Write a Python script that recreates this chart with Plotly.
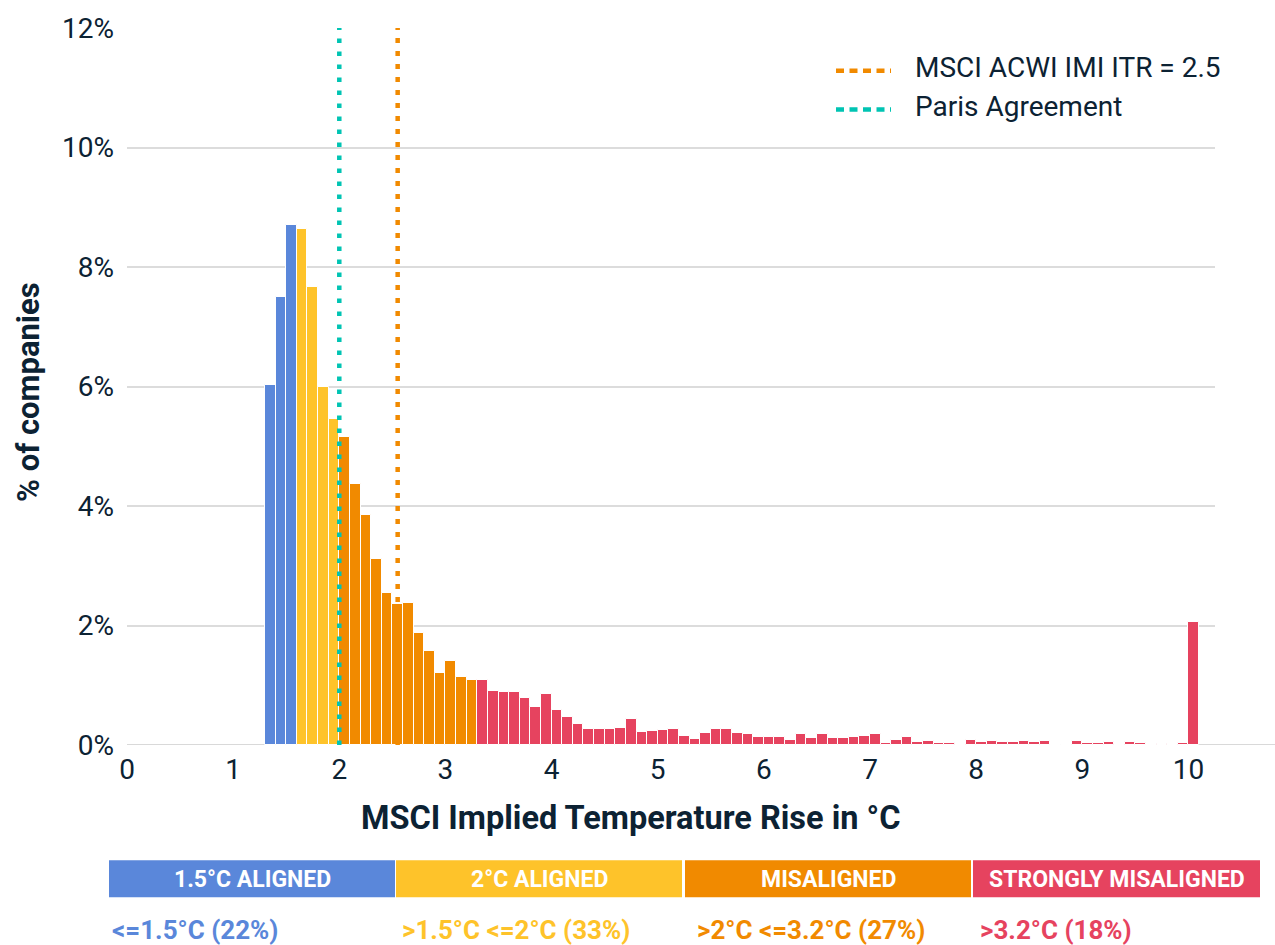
import plotly.graph_objects as go

# ---------------- data ----------------
bin_start = 1.3          # left edge of first bin (°C)
bin_width = 0.1          # bin width (°C)
share_pct = [
    6.03, 7.49, 8.70,                                   # 1.3 - 1.6
    8.64, 7.67, 5.99, 5.45,                             # 1.6 - 2.0
    5.16, 4.36, 3.85, 3.11, 2.54, 2.36, 2.37, 1.87,     # 2.0 - 2.8
    1.58, 1.20, 1.40, 1.14, 1.08,                       # 2.8 - 3.3
    1.08, 0.90, 0.88, 0.88, 0.78, 0.63, 0.86,           # 3.3 - 4.0
    0.58, 0.47, 0.35, 0.27, 0.26, 0.27, 0.29, 0.44, 0.22, 0.24,   # 4.0 - 5.0
    0.25, 0.26, 0.15, 0.10, 0.20, 0.26, 0.26, 0.20, 0.18, 0.13,   # 5.0 - 6.0
    0.13, 0.13, 0.09, 0.19, 0.11, 0.19, 0.11, 0.11, 0.14, 0.15,   # 6.0 - 7.0
    0.19, 0.03, 0.09, 0.14, 0.05, 0.07, 0.04, 0.035, 0.015, 0.09, # 7.0 - 8.0
    0.05, 0.06, 0.05, 0.05, 0.07, 0.05, 0.07, 0.005, 0.005, 0.06, # 8.0 - 9.0
    0.04, 0.03, 0.055, 0.015, 0.055, 0.03, 0.005, 0.02, 0.02, 0.03, # 9.0 - 10.0
    2.06,                                               # 10.0 - 10.1
]
category_names = ["1.5°C ALIGNED", "2°C ALIGNED", "MISALIGNED", "STRONGLY MISALIGNED"]
category_labels = ["<=1.5°C (22%)", ">1.5°C <=2°C (33%)", ">2°C <=3.2°C (27%)", ">3.2°C (18%)"]
category_colors = ["#5A87DA", "#FEC32A", "#F18A00", "#E6435F"]
category_upper = [1.6, 2.0, 3.3, 99]     # upper bin edge of each colour band
itr_value = 2.55
paris_value = 2.0
line_names = ["MSCI ACWI IMI ITR = 2.5", "Paris Agreement"]
itr_color = "#F18A00"
paris_color = "#00C4B3"
y_ticks = [0, 2, 4, 6, 8, 10, 12]
y_ticktext = ["0%", "2%", "4%", "6%", "8%", "10%", "12%"]
x_ticks = [0, 1, 2, 3, 4, 5, 6, 7, 8, 9, 10]

# ---------------- derived ----------------
bin_centers = [round(bin_start + bin_width * (i + 0.5), 3) for i in range(len(share_pct))]


def band_color(c):
    for up, col in zip(category_upper, category_colors):
        if c < up:
            return col
    return category_colors[-1]


bar_colors = [band_color(c) for c in bin_centers]

TXT = "#0c2233"
FONT = "Roboto, 'Open Sans', sans-serif"

# layout geometry helpers (pixel -> paper)
L, R, T, B = 127, 60, 24, 200
W, H = 1275, 945
PW, PH = W - L - R, H - T - B


def pxx(px):
    return (px - L) / PW


def pxy(py):
    return (H - B - py) / PH


fig = go.Figure()

fig.add_trace(go.Bar(
    x=bin_centers, y=share_pct, width=bin_width,
    marker=dict(color=bar_colors, line=dict(color="white", width=1)),
    showlegend=False, hoverinfo="x+y",
))

fig.add_trace(go.Scatter(
    x=[paris_value, paris_value], y=[0, 12], mode="lines",
    line=dict(color=paris_color, width=4.5, dash="4.5px,8.5px"),
    name=line_names[1], showlegend=False,
))
fig.add_trace(go.Scatter(
    x=[itr_value, itr_value], y=[0, 12], mode="lines",
    line=dict(color=itr_color, width=4.5, dash="5px,8px"),
    name=line_names[0], showlegend=False,
))

shapes = []
annotations = []

# baseline extending past the plot
shapes.append(dict(type="line", xref="paper", yref="y", x0=0, x1=pxx(1275), y0=0, y1=0,
                   line=dict(color="#d9d9d9", width=2), layer="below"))

# manual legend
for i, (nm, col) in enumerate(zip(line_names, [itr_color, paris_color])):
    yy = [67, 106][i]
    shapes.append(dict(type="line", xref="paper", yref="paper",
                       x0=pxx(836), x1=pxx(891), y0=pxy(yy), y1=pxy(yy),
                       line=dict(color=col, width=4.5, dash="8px,5.5px")))
    annotations.append(dict(xref="paper", yref="paper", x=pxx(913), y=pxy(yy - 3),
                            xanchor="left", yanchor="middle", text=nm, showarrow=False,
                            font=dict(family=FONT, size=28, color=TXT)))

# category boxes under the chart
box_x = [(109, 395), (396, 682), (685, 971), (973, 1260)]
label_x = [110, 400, 695, 978]
for (x0, x1), nm, lab, col, lx in zip(box_x, category_names, category_labels, category_colors, label_x):
    shapes.append(dict(type="rect", xref="paper", yref="paper",
                       x0=pxx(x0), x1=pxx(x1), y0=pxy(898), y1=pxy(861),
                       fillcolor=col, line=dict(width=0)))
    annotations.append(dict(xref="paper", yref="paper", x=pxx((x0 + x1) / 2), y=pxy(880),
                            xanchor="center", yanchor="middle", text="<b>%s</b>" % nm,
                            showarrow=False, font=dict(family=FONT, size=23, color="white")))
    annotations.append(dict(xref="paper", yref="paper", x=pxx(lx), y=pxy(931),
                            xanchor="left", yanchor="middle", text="<b>%s</b>" % lab,
                            showarrow=False, font=dict(family=FONT, size=26, color=col)))

# axis titles
annotations.append(dict(xref="paper", yref="paper", x=pxx(631), y=pxy(818),
                        xanchor="center", yanchor="middle",
                        text="<b>MSCI Implied Temperature Rise in °C</b>", showarrow=False,
                        font=dict(family=FONT, size=32.5, color=TXT)))
annotations.append(dict(xref="paper", yref="paper", x=pxx(29), y=pxy(390),
                        xanchor="center", yanchor="middle", textangle=-90,
                        text="<b>% of companies</b>", showarrow=False,
                        font=dict(family=FONT, size=31, color=TXT)))

fig.update_layout(
    width=W, height=H,
    margin=dict(l=L, r=R, t=T, b=B, pad=0),
    paper_bgcolor="white", plot_bgcolor="white",
    bargap=0,
    font=dict(family=FONT, color=TXT, size=28),
    shapes=shapes, annotations=annotations,
    showlegend=False,
)
fig.update_xaxes(range=[0, 10.25], tickvals=x_ticks, showgrid=False, zeroline=False,
                 showline=False, ticks="", tickfont=dict(size=28, color=TXT),
                 ticklabelstandoff=5)
fig.update_yaxes(range=[0, 12], tickvals=y_ticks, ticktext=y_ticktext, showgrid=True,
                 gridcolor="#dcdcdc", gridwidth=1.5, zeroline=False, showline=False,
                 ticks="", tickfont=dict(size=28, color=TXT), ticklabelstandoff=12)

fig.write_html("out.html", config={"displayModeBar": False},
               post_script="document.body.style.margin='0px';document.body.style.overflow='hidden';")
